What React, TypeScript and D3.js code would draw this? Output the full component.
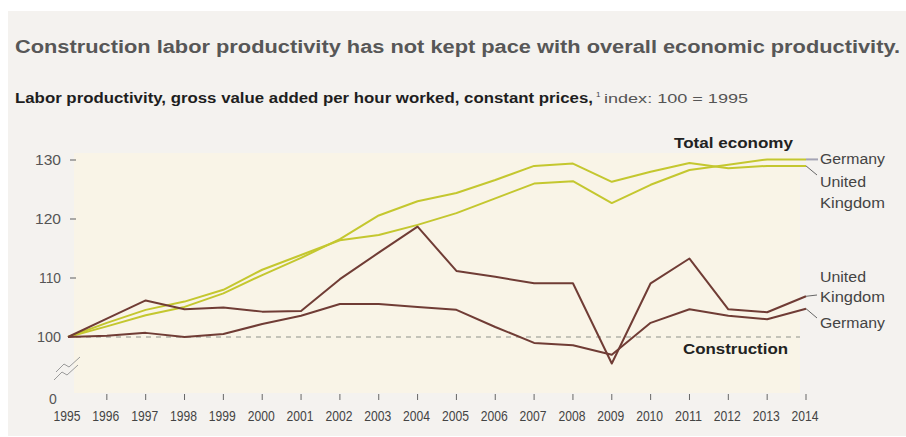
import React from 'react';
import * as d3 from 'd3';

const years = [1995, 1996, 1997, 1998, 1999, 2000, 2001, 2002, 2003, 2004, 2005, 2006, 2007, 2008, 2009, 2010, 2011, 2012, 2013, 2014];
const totalGermany = [100, 102.4, 104.6, 106.0, 108.0, 111.4, 113.9, 116.4, 117.3, 119.0, 121.0, 123.5, 126.0, 126.4, 122.7, 125.8, 128.3, 129.2, 130.1, 130.1];
const totalUK = [100, 101.8, 103.7, 105.1, 107.4, 110.5, 113.4, 116.6, 120.6, 123.0, 124.4, 126.6, 129.0, 129.4, 126.3, 128.0, 129.5, 128.6, 129.0, 129.0];
const constructionUK = [100, 103.1, 106.2, 104.7, 105.0, 104.3, 104.4, 109.8, 114.3, 118.7, 111.2, 110.2, 109.1, 109.1, 95.5, 109.1, 113.3, 104.7, 104.2, 106.9];
const constructionGermany = [100, 100.2, 100.7, 100.0, 100.5, 102.2, 103.6, 105.6, 105.6, 105.1, 104.6, 101.7, 99.0, 98.6, 97.0, 102.4, 104.7, 103.6, 103.0, 104.8];
const yTicks = [100, 110, 120, 130];

const FONT = "'Liberation Sans', Arial, Helvetica, sans-serif";
const GREEN = '#c4c72f';
const BROWN = '#703c35';

export default function App() {
  const x = d3.scaleLinear().domain([1995, 2014]).range([68, 806]);
  const y = d3.scaleLinear().domain([100, 130]).range([337, 160]);
  const lineGen = d3
    .line<number>()
    .x((_, i) => x(years[i]))
    .y((v) => y(v));

  const lastX = x(2014);
  const endG = y(totalGermany[totalGermany.length - 1]);
  const endU = y(totalUK[totalUK.length - 1]);
  const endCU = y(constructionUK[constructionUK.length - 1]);
  const endCG = y(constructionGermany[constructionGermany.length - 1]);

  const yLabelW: Record<number, number> = { 100: 24, 110: 22, 120: 26, 130: 26 };

  return (
    <svg width={906} height={437} style={{ position: 'absolute', left: 0, top: 0 }} fontFamily={FONT}>
      <rect x={0} y={0} width={906} height={437} fill="#ffffff" />
      <rect x={8} y={11} width={898} height={425} fill="#f4f2ef" />
      <rect x={74} y={153} width={726} height={240} fill="#f9f4e7" />

      <text x={15} y={53} fontSize={18} fontWeight="bold" fill="#575757" textLength={885} lengthAdjust="spacingAndGlyphs">
        Construction labor productivity has not kept pace with overall economic productivity.
      </text>
      <text x={15} y={103} fontSize={14.5} fontWeight="bold" fill="#1e1e1e" textLength={578} lengthAdjust="spacingAndGlyphs">
        Labor productivity, gross value added per hour worked, constant prices,
      </text>
      <text x={596} y={97} fontSize={8} fill="#444">1</text>
      <text x={604} y={103} fontSize={13.5} fill="#555" textLength={144} lengthAdjust="spacingAndGlyphs">
        index: 100 = 1995
      </text>

      {/* y axis labels */}
      {yTicks.map((t) => (
        <g key={t}>
          <text x={61} y={y(t) + 5} fontSize={14} fill="#555" textAnchor="end" textLength={yLabelW[t]} lengthAdjust="spacingAndGlyphs">
            {t}
          </text>
          {t !== 100 && <line x1={70} x2={76} y1={y(t)} y2={y(t)} stroke="#777" strokeWidth={1.2} />}
        </g>
      ))}
      <text x={53} y={404} fontSize={14} fill="#555" textAnchor="middle">0</text>

      {/* axis break */}
      <polyline points="56,372 64,364 69,367 80,357" fill="none" stroke="#9a9a9a" strokeWidth={1} />
      <polyline points="54,380 62,372 67,375 78,365" fill="none" stroke="#9a9a9a" strokeWidth={1} />

      {/* x ticks and labels */}
      {years.map((yr) => (
        <g key={yr}>
          {yr !== 1995 && <line x1={x(yr)} x2={x(yr)} y1={394} y2={400} stroke="#666" strokeWidth={1} />}
          <text x={x(yr) - 1} y={421} fontSize={15} fill="#444" textAnchor="middle" textLength={27} lengthAdjust="spacingAndGlyphs">
            {yr}
          </text>
        </g>
      ))}

      {/* baseline 100 dashed */}
      <line x1={76} x2={800} y1={y(100)} y2={y(100)} stroke="#b3b3aa" strokeWidth={1.5} strokeDasharray="5,5" />

      {/* lines */}
      <path d={lineGen(totalUK) || ''} fill="none" stroke={GREEN} strokeWidth={2} strokeLinejoin="round" />
      <path d={lineGen(totalGermany) || ''} fill="none" stroke={GREEN} strokeWidth={2} strokeLinejoin="round" />
      <path d={lineGen(constructionGermany) || ''} fill="none" stroke={BROWN} strokeWidth={2} strokeLinejoin="round" />
      <path d={lineGen(constructionUK) || ''} fill="none" stroke={BROWN} strokeWidth={2} strokeLinejoin="round" />

      {/* leaders */}
      <line x1={lastX} x2={818} y1={endG} y2={endG} stroke="#a4a4b4" strokeWidth={2} />
      <line x1={lastX} x2={817} y1={endU} y2={175} stroke="#666" strokeWidth={1} />
      <line x1={lastX} x2={817} y1={endCU} y2={295} stroke="#666" strokeWidth={1} />
      <line x1={lastX} x2={817} y1={endCG} y2={318} stroke="#666" strokeWidth={1} />

      {/* series labels */}
      <text x={674} y={147.5} fontSize={15} fontWeight="bold" fill="#222" textLength={119} lengthAdjust="spacingAndGlyphs">Total economy</text>
      <text x={683} y={354} fontSize={15.5} fontWeight="bold" fill="#222" textLength={105} lengthAdjust="spacingAndGlyphs">Construction</text>

      <text x={820} y={163.5} fontSize={15.5} fill="#444" textLength={65} lengthAdjust="spacingAndGlyphs">Germany</text>
      <text x={820} y={187} fontSize={15.5} fill="#444" textLength={46} lengthAdjust="spacingAndGlyphs">United</text>
      <text x={820} y={207.5} fontSize={15.5} fill="#444" textLength={65} lengthAdjust="spacingAndGlyphs">Kingdom</text>

      <text x={820} y={281.5} fontSize={15.5} fill="#444" textLength={46} lengthAdjust="spacingAndGlyphs">United</text>
      <text x={820} y={302} fontSize={15.5} fill="#444" textLength={65} lengthAdjust="spacingAndGlyphs">Kingdom</text>
      <text x={820} y={328} fontSize={15.5} fill="#444" textLength={65} lengthAdjust="spacingAndGlyphs">Germany</text>
    </svg>
  );
}
